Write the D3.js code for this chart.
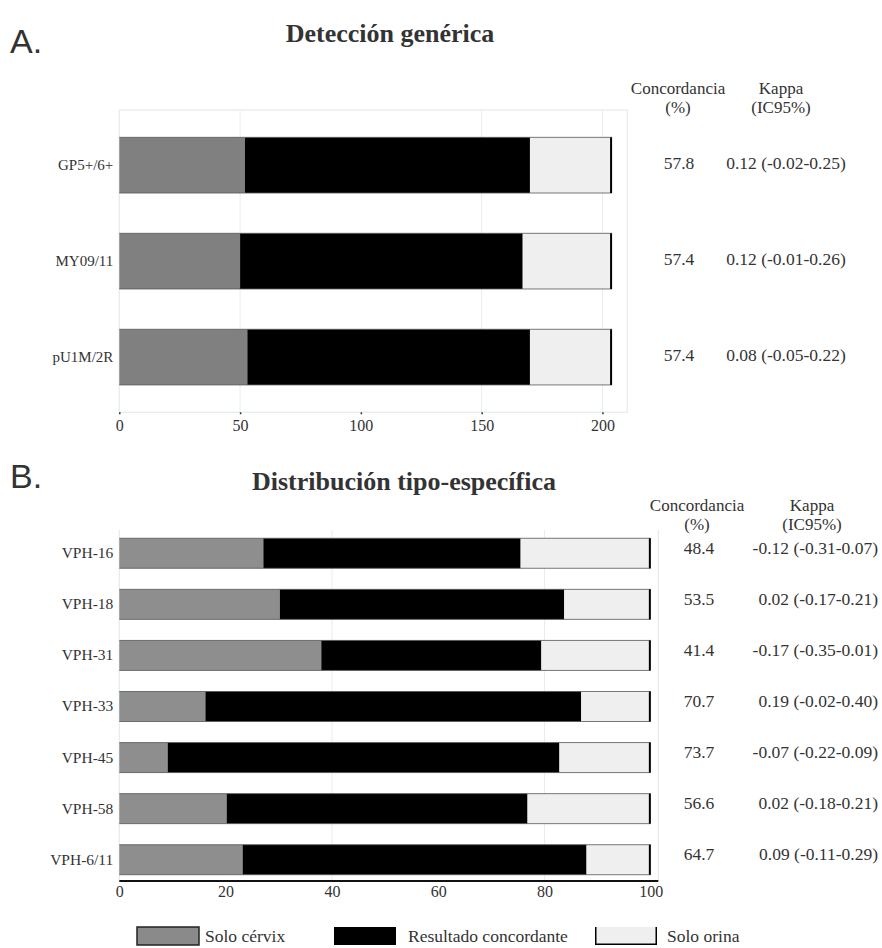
<!DOCTYPE html>
<html>
<head>
<meta charset="utf-8">
<script src="https://cdnjs.cloudflare.com/ajax/libs/d3/7.8.5/d3.min.js"></script>
<style>
  body { margin: 0; background: #fff; }
  svg text { font-family: "Liberation Serif", "Times New Roman", serif; fill: #333; }
</style>
</head>
<body>
<svg id="chart" width="882" height="948"></svg>
<script>
var seriesKeys = ['cervix', 'concord', 'urine'];
var seriesNames = ['Solo cérvix', 'Resultado concordante', 'Solo orina'];

// A. Detección genérica (número de muestras)
var genericCats = ['GP5+/6+', 'MY09/11', 'pU1M/2R'];
var genericCervix = [52, 50, 53];
var genericConcord = [118, 117, 117];
var genericUrine = [34, 37, 34];
var genericPct = ['57.8', '57.4', '57.4'];
var genericKappa = ['0.12 (-0.02-0.25)', '0.12 (-0.01-0.26)', '0.08 (-0.05-0.22)'];
var genericTicks = [0, 50, 100, 150, 200];
var genericGrid = [50, 150, 200];

// B. Distribución tipo-específica (%)
var typeCats = ['VPH-16', 'VPH-18', 'VPH-31', 'VPH-33', 'VPH-45', 'VPH-58', 'VPH-6/11'];
var typeCervix = [27.1, 30.2, 38.0, 16.2, 9.1, 20.2, 23.2];
var typeConcord = [48.4, 53.5, 41.4, 70.7, 73.7, 56.6, 64.7];
var typeUrine = [24.5, 16.3, 20.6, 13.1, 17.2, 23.2, 12.1];
var typePct = ['48.4', '53.5', '41.4', '70.7', '73.7', '56.6', '64.7'];
var typeKappa = ['-0.12 (-0.31-0.07)', '0.02 (-0.17-0.21)', '-0.17 (-0.35-0.01)',
  '0.19 (-0.02-0.40)', '-0.07 (-0.22-0.09)', '0.02 (-0.18-0.21)', '0.09 (-0.11-0.29)'];
var typeTicks = [0, 20, 40, 60, 80, 100];
var typeGrid = [40, 80];

var svg = d3.select('#chart');

var makeRows = function(cats, a, b, c) {
  return cats.map(function(cat, i) {
    return { cat: cat, cervix: a[i], concord: b[i], urine: c[i] };
  });
};

var drawPanel = function(o) {
  var rows = makeRows(o.cats, o.cervix, o.concord, o.urine),
      stack = d3.stack().keys(seriesKeys)(rows),
      x = d3.scaleLinear().domain(o.domain).range([o.left, o.right]),
      y = d3.scaleBand().domain(o.cats).range([o.top, o.bottom])
        .paddingInner(o.padIn).paddingOuter(o.padOut),
      colors = d3.scaleOrdinal().domain(seriesKeys).range([o.gray, '#000', '#efefef']),
      g = svg.append('g');

  // panel frame and grid
  if (o.box) {
    g.append('rect')
      .attr('x', o.left).attr('y', o.top)
      .attr('width', o.right - o.left).attr('height', o.bottom - o.top)
      .attr('fill', 'none').attr('stroke', '#e2ebee').attr('stroke-width', 1.2);
  } else {
    g.selectAll('line.side')
      .data([o.left, o.right])
      .enter().append('line')
        .attr('class', 'side')
        .attr('x1', function(d) { return d; }).attr('x2', function(d) { return d; })
        .attr('y1', o.top).attr('y2', o.axisY)
        .attr('stroke', '#e2ebee').attr('stroke-width', 1.2);
  }

  g.selectAll('line.grid')
    .data(o.grid)
    .enter().append('line')
      .attr('class', 'grid')
      .attr('x1', x).attr('x2', x)
      .attr('y1', o.top).attr('y2', o.axisY)
      .attr('stroke', '#e6eef1').attr('stroke-width', 1);

  // stacked segments
  g.selectAll('g.series')
    .data(stack)
    .enter().append('g')
      .attr('class', 'series')
      .attr('fill', function(d) { return colors(d.key); })
    .selectAll('rect')
    .data(function(d) { return d; })
    .enter().append('rect')
      .attr('x', function(d) { return x(d[0]); })
      .attr('y', function(d) { return y(d.data.cat); })
      .attr('width', function(d) { return x(d[1]) - x(d[0]); })
      .attr('height', y.bandwidth());

  // thin outline top/bottom + black right edge
  var last = stack[stack.length - 1];
  g.selectAll('path.edge')
    .data(last)
    .enter().append('path')
      .attr('class', 'edge')
      .attr('d', function(d) {
        var x0 = x(0), x1 = x(d[1]), y0 = y(d.data.cat), y1 = y0 + y.bandwidth();
        return 'M' + x0 + ',' + y0 + 'H' + x1 + 'M' + x0 + ',' + y1 + 'H' + x1;
      })
      .attr('fill', 'none').attr('stroke', '#555').attr('stroke-width', 0.8);
  g.selectAll('line.end')
    .data(last)
    .enter().append('line')
      .attr('class', 'end')
      .attr('x1', function(d) { return x(d[1]) - 1; })
      .attr('x2', function(d) { return x(d[1]) - 1; })
      .attr('y1', function(d) { return y(d.data.cat); })
      .attr('y2', function(d) { return y(d.data.cat) + y.bandwidth(); })
      .attr('stroke', '#000').attr('stroke-width', 2);

  // x axis
  var axis = d3.axisBottom(x).tickValues(o.ticks).tickSize(o.tickSize).tickPadding(o.tickPad);
  var ax = g.append('g')
    .attr('transform', 'translate(0,' + o.axisY + ')')
    .call(axis);
  ax.select('.domain').remove();
  ax.selectAll('.tick line').attr('stroke', '#333').attr('stroke-width', 1.5);
  ax.selectAll('.tick text')
    .attr('font-family', '"Liberation Serif", serif')
    .attr('font-size', o.tickFs).attr('fill', '#444');
  if (o.axisLine) {
    g.append('line')
      .attr('x1', o.left).attr('x2', o.right)
      .attr('y1', o.axisY).attr('y2', o.axisY)
      .attr('stroke', '#111').attr('stroke-width', 2);
  }

  // category labels
  var ya = d3.axisLeft(y).tickSize(0).tickPadding(6);
  var yg = g.append('g')
    .attr('transform', 'translate(' + o.left + ',0)')
    .call(ya);
  yg.select('.domain').remove();
  yg.selectAll('.tick text')
    .attr('font-family', '"Liberation Serif", serif')
    .attr('font-size', o.fs).attr('fill', '#333');

  // concordancia / kappa columns
  g.selectAll('text.pct')
    .data(o.pct)
    .enter().append('text')
      .attr('class', 'pct')
      .attr('x', o.pctX)
      .attr('y', function(d, i) { return y(o.cats[i]) + y.bandwidth() / 2 + o.valDy; })
      .attr('text-anchor', 'middle')
      .attr('font-size', o.valFs)
      .text(function(d) { return d; });
  g.selectAll('text.kappa')
    .data(o.kappa)
    .enter().append('text')
      .attr('class', 'kappa')
      .attr('x', o.kappaX)
      .attr('y', function(d, i) { return y(o.cats[i]) + y.bandwidth() / 2 + o.valDy; })
      .attr('text-anchor', o.kappaAnchor)
      .attr('font-size', o.valFs)
      .text(function(d) { return d; });

  // headers
  var head = [
    { t: 'Concordancia', x: o.pctHeadX, y: o.headY },
    { t: '(%)', x: o.pctHeadX, y: o.headY + 19 },
    { t: 'Kappa', x: o.kappaHeadX, y: o.headY },
    { t: '(IC95%)', x: o.kappaHeadX, y: o.headY + 19 }
  ];
  g.selectAll('text.head')
    .data(head)
    .enter().append('text')
      .attr('class', 'head')
      .attr('x', function(d) { return d.x; })
      .attr('y', function(d) { return d.y; })
      .attr('text-anchor', 'middle')
      .attr('font-size', 17)
      .text(function(d) { return d.t; });

  // title and panel letter
  g.append('text')
    .attr('x', o.titleX).attr('y', o.titleY)
    .attr('text-anchor', 'middle')
    .attr('font-size', 26).attr('font-weight', 'bold').attr('fill', '#222')
    .text(o.title);
  g.append('text')
    .attr('x', 10).attr('y', o.letterY)
    .style('font-family', '"Liberation Sans", Arial, sans-serif')
    .attr('font-size', 34).attr('fill', '#2a2a2a')
    .text(o.letter);
};

drawPanel({
  cats: genericCats, cervix: genericCervix, concord: genericConcord, urine: genericUrine,
  pct: genericPct, kappa: genericKappa, ticks: genericTicks, grid: genericGrid,
  domain: [0, 210.3], left: 119.3, right: 627.3,
  top: 110, bottom: 412.3, axisY: 412.3, padIn: 0.42, padOut: 0.285,
  gray: '#808080', box: true, axisLine: false, tickSize: 2, tickPad: 5, fs: 15, tickFs: 16,
  pctX: 679, kappaX: 786, kappaAnchor: 'middle', valDy: 3.5, valFs: 17.5,
  pctHeadX: 678, kappaHeadX: 781, headY: 94,
  title: 'Detección genérica', titleX: 390, titleY: 42, letter: 'A.', letterY: 53
});

drawPanel({
  cats: typeCats, cervix: typeCervix, concord: typeConcord, urine: typeUrine,
  pct: typePct, kappa: typeKappa, ticks: typeTicks, grid: typeGrid,
  domain: [0, 101.4], left: 119.3, right: 658.3,
  top: 530, bottom: 883, axisY: 881, padIn: 0.4126, padOut: 0.162,
  gray: '#8e8e8e', box: false, axisLine: true, tickSize: 0, tickPad: 5, fs: 15.5, tickFs: 16,
  pctX: 699, kappaX: 878, kappaAnchor: 'end', valDy: 0.5, valFs: 17.5,
  pctHeadX: 697, kappaHeadX: 812, headY: 511,
  title: 'Distribución tipo-específica', titleX: 404, titleY: 490, letter: 'B.', letterY: 488
});

// legend
var legendX = [137, 334, 595];
var legendFill = ['#8a8a8a', '#000', '#efefef'];
var legend = svg.append('g').selectAll('g')
  .data(seriesNames)
  .enter().append('g')
    .attr('transform', function(d, i) { return 'translate(' + legendX[i] + ',927)'; });

legend.append('rect')
  .attr('width', 62).attr('height', 18)
  .attr('fill', function(d, i) { return legendFill[i]; })
  .attr('stroke', function(d, i) { return i === 0 ? '#222' : 'none'; })
  .attr('stroke-width', 1.5);
legend.filter(function(d, i) { return i === 2; })
  .append('path')
    .attr('d', 'M0.75,0V17.25H61.25V0')
    .attr('fill', 'none').attr('stroke', '#000').attr('stroke-width', 1.5);
legend.append('text')
  .attr('x', function(d, i) { return [68, 74, 72][i]; })
  .attr('y', 15)
  .attr('font-size', 17.5)
  .text(function(d) { return d; });
</script>
</body>
</html>
